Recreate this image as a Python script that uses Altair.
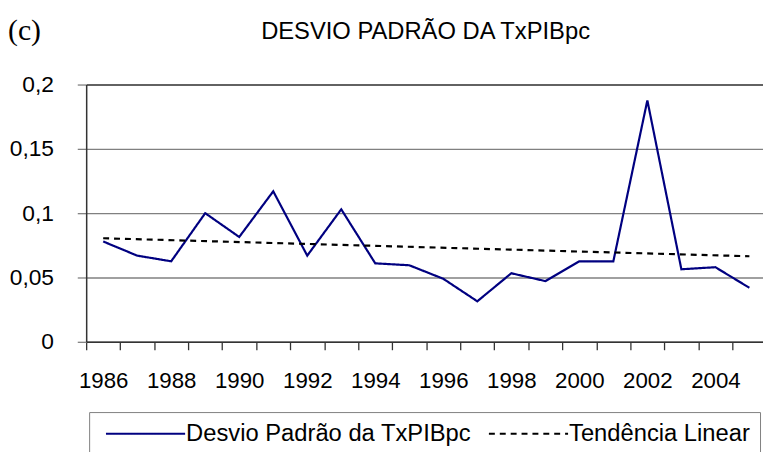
import altair as alt
import pandas as pd

# ---- data ----
years = list(range(1986, 2006))
desvio = [0.078, 0.067, 0.0626, 0.100, 0.0815, 0.117, 0.067, 0.103, 0.061, 0.0595,
          0.049, 0.0315, 0.0533, 0.0472, 0.0626, 0.0626, 0.1877, 0.0564, 0.058, 0.042]
trend_years = [1986, 2005]
trend_values = [0.0805, 0.0665]
series_names = ["Desvio Padrão da TxPIBpc", "Tendência Linear"]
series_colors = ["#000080", "#000000"]
series_dashes = [[1, 0], [6, 5]]
y_ticks = [0, 0.05, 0.1, 0.15, 0.2]
x_bounds = [y - 0.5 for y in years]  # category boundaries (tick marks)
title_text = "DESVIO PADRÃO DA TxPIBpc"
panel_label = "(c)"

df = pd.DataFrame({
    "ano": years + trend_years,
    "valor": desvio + trend_values,
    "serie": [series_names[0]] * len(years) + [series_names[1]] * len(trend_years),
})

FONT = "Liberation Sans"

x_axis = alt.Axis(
    values=x_bounds,
    labelExpr="((datum.value + 0.5) % 2 == 0) ? format(datum.value + 0.5, 'd') : ''",
    labelOffset=17.2,
    labelFlush=False,
    labelOverlap=False,
    labelFont=FONT,
    labelFontSize=22.5,
    labelColor="black",
    labelPadding=20,
    tickSize=8,
    tickColor="#333333",
    tickWidth=1.3,
    domainColor="#333333",
    domainWidth=1.5,
    grid=False,
    title=None,
)

y_axis = alt.Axis(
    values=y_ticks,
    labelExpr="replace(toString(datum.value), '.', ',')",
    labelFont=FONT,
    labelFontSize=23,
    labelColor="black",
    labelPadding=24,
    labelFlush=False,
    tickSize=9,
    tickColor="#808080",
    tickWidth=1.3,
    domainColor="#333333",
    domainWidth=1.5,
    grid=True,
    gridColor={"condition": {"test": "datum.value >= 0.2", "value": "#333333"}, "value": "#808080"},
    gridWidth=1.4,
    title=None,
)

legend = alt.Legend(
    title=None,
    orient="none",
    legendX=3,
    legendY=331,
    direction="horizontal",
    columns=2,
    symbolType="M-1,0H15",
    symbolSize=100,
    symbolStrokeWidth=2,
    labelFont=FONT,
    labelFontSize=24,
    labelColor="black",
    labelOffset=64,
    labelLimit=600,
    columnPadding=10,
    padding=10,
    strokeColor="#808080",
    fillColor="white",
)

lines = alt.Chart(df).mark_line(strokeWidth=2.2).encode(
    x=alt.X("ano:Q", scale=alt.Scale(domain=[1985.5, 2005.4], nice=False, zero=False), axis=x_axis),
    y=alt.Y("valor:Q", scale=alt.Scale(domain=[0, 0.2], nice=False, zero=True), axis=y_axis),
    color=alt.Color("serie:N", scale=alt.Scale(domain=series_names, range=series_colors), legend=legend),
    strokeDash=alt.StrokeDash("serie:N", scale=alt.Scale(domain=series_names, range=series_dashes), legend=legend),
    detail="serie:N",
)

label_c = alt.Chart(pd.DataFrame({"t": [panel_label]})).mark_text(
    font="Liberation Serif", fontSize=30, align="left", baseline="alphabetic", color="black"
).encode(
    text="t:N",
    x=alt.value(-79),
    y=alt.value(-45),
)

title_mark = alt.Chart(pd.DataFrame({"t": [title_text]})).mark_text(
    font=FONT, fontSize=24, align="center", baseline="alphabetic", color="black"
).encode(
    text="t:N",
    x=alt.value(343),
    y=alt.value(-46.5),
)

chart = alt.layer(lines, label_c, title_mark).properties(
    width=684,
    height=260,
    autosize=alt.AutoSizeParams(type="none"),
    padding={"left": 79, "top": 75, "right": 0, "bottom": 109},
).configure_view(strokeWidth=0).configure(font=FONT)

chart.save("out.html", embed_options={"renderer": "svg", "actions": False})
